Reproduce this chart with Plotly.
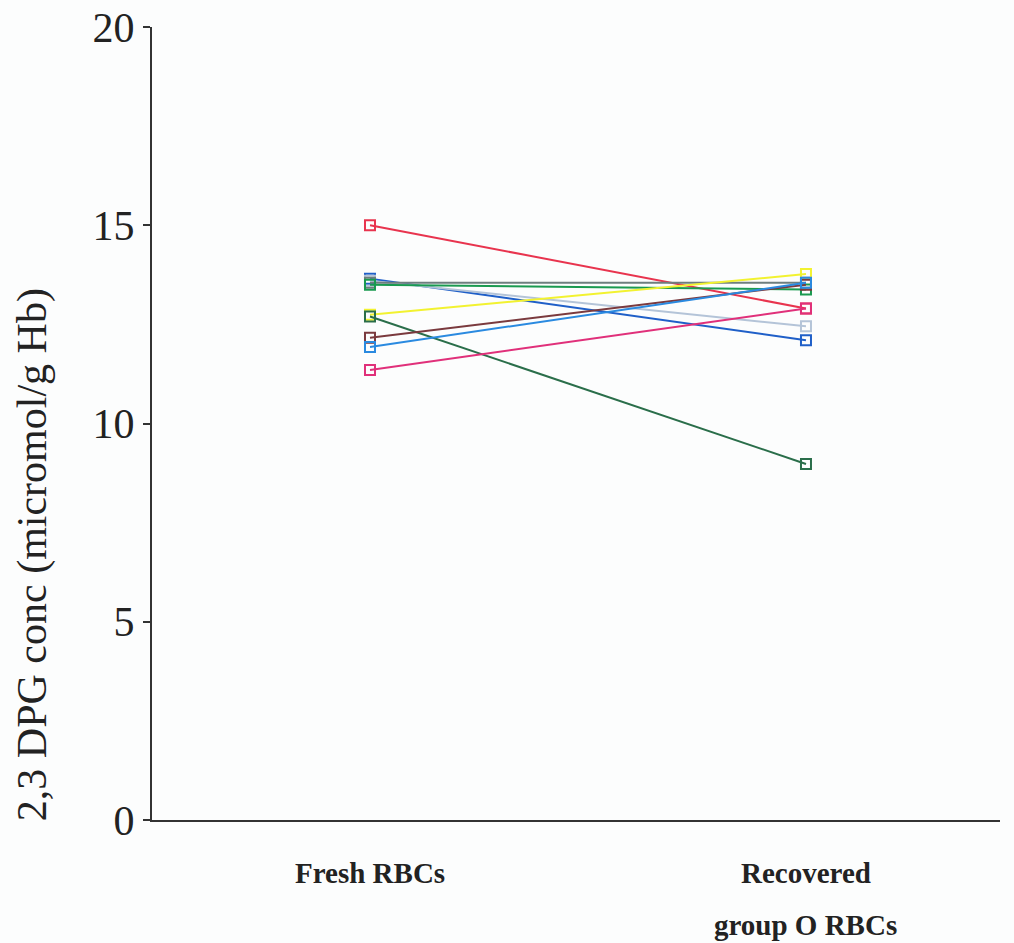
import plotly.graph_objects as go

category_labels = ["Fresh RBCs", "Recovered", "group O RBCs"]

fresh = [15.0, 13.65, 13.6, 13.55, 13.5, 12.74, 12.7, 12.16, 11.93, 11.35]
recovered = [12.9, 12.1, 12.45, 13.55, 13.38, 13.77, 8.98, 13.5, 13.55, 12.9]
colors = ["#e8344e", "#1f5fc8", "#b4c4d8", "#6e7e7e", "#1a9a50",
          "#f2f230", "#2a6e4a", "#7a3a3e", "#2a8ae0", "#e0307a"]

y_ticks = [0, 5, 10, 15, 20]
y_title = "2,3 DPG conc (micromol/g Hb)"

fig = go.Figure()
for f, r, c in zip(fresh, recovered, colors):
    fig.add_trace(go.Scatter(
        x=[0, 1], y=[f, r], mode="lines+markers",
        line=dict(color=c, width=2),
        marker=dict(symbol="square-open", size=10, color=c, line=dict(width=2, color=c)),
        showlegend=False,
    ))

fig.update_layout(
    width=1014, height=943,
    margin=dict(l=152, r=14, t=27, b=123, autoexpand=False),
    paper_bgcolor="#fcfdfd", plot_bgcolor="#fcfdfd",
    font=dict(family="Liberation Serif", color="#222"),
    xaxis=dict(range=[-0.5, 1.445], showgrid=False, zeroline=False,
               showline=True, linecolor="#333", linewidth=2, automargin=False,
               showticklabels=False, ticks=""),
    yaxis=dict(range=[0, 20], tickvals=y_ticks, showgrid=False, zeroline=False,
               showline=True, linecolor="#333", linewidth=2, automargin=False,
               ticks="outside", ticklen=7, tickwidth=1.5, tickcolor="#333",
               tickfont=dict(size=42, family="Liberation Serif", color="#222")),
)

# category labels below the axis
label_pos = [(0, 0, category_labels[0]), (1, 0, category_labels[1]), (1, 1, category_labels[2])]
for xv, row, txt in label_pos:
    fig.add_annotation(x=xv, xref="x", y=0, yref="y domain", yanchor="middle",
                       yshift=-(53 + 52 * row),
                       text="<b>" + txt + "</b>", showarrow=False,
                       font=dict(size=29, family="Liberation Serif", color="#222"))

fig.add_annotation(x=-0.1415, xref="paper", y=0.334, yref="paper",
                   xanchor="center", yanchor="middle",
                   text=y_title, textangle=-90, showarrow=False,
                   font=dict(size=42, family="Liberation Serif", color="#222"))

fig.write_html("out.html", config={"displayModeBar": False},
               post_script="document.body.style.margin='0';document.body.style.overflow='hidden';")
